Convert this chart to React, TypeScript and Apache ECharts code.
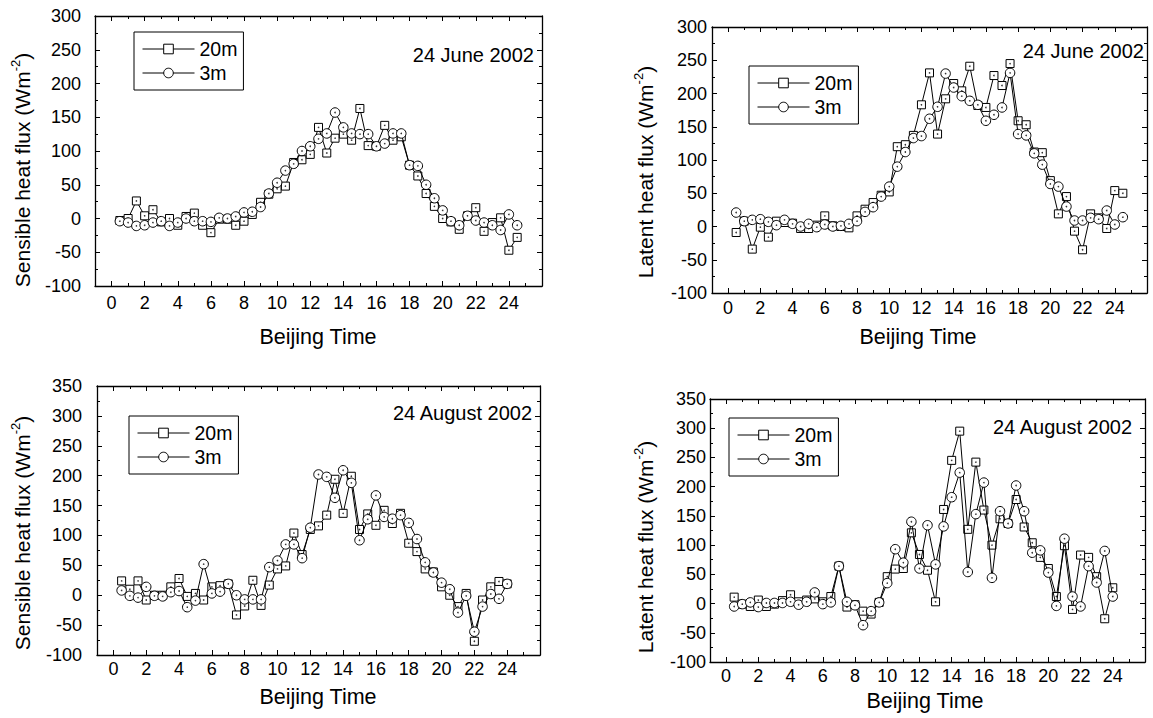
import React, { useEffect, useRef } from 'react';
import * as echarts from 'echarts';

const FONT = '"Liberation Sans", Arial, Helvetica, sans-serif';

// Beijing time of each half-hourly sample
const HOURS_JUNE = [0.5, 1, 1.5, 2, 2.5, 3, 3.5, 4, 4.5, 5, 5.5, 6, 6.5, 7, 7.5, 8, 8.5, 9, 9.5, 10, 10.5, 11, 11.5, 12, 12.5, 13, 13.5, 14, 14.5, 15, 15.5, 16, 16.5, 17, 17.5, 18, 18.5, 19, 19.5, 20, 20.5, 21, 21.5, 22, 22.5, 23, 23.5, 24, 24.5];
const HOURS_AUG = [0.5, 1, 1.5, 2, 2.5, 3, 3.5, 4, 4.5, 5, 5.5, 6, 6.5, 7, 7.5, 8, 8.5, 9, 9.5, 10, 10.5, 11, 11.5, 12, 12.5, 13, 13.5, 14, 14.5, 15, 15.5, 16, 16.5, 17, 17.5, 18, 18.5, 19, 19.5, 20, 20.5, 21, 21.5, 22, 22.5, 23, 23.5, 24];

// Sensible heat flux, 24 June 2002
const SH_JUNE_20M = [-3, 0, 26, 4, 13, -5, 0, -10, 3, 8, -10, -21, -1, -1, -10, -4, 6, 24, 36, 44, 48, 83, 87, 95, 135, 97, 119, 125, 116, 163, 108, 107, 138, 116, 121, 79, 63, 37, 18, 0, -5, -16, 4, 16, -19, -6, 1, -47, -28];
const SH_JUNE_3M = [-4, -6, -11, -10, -6, -4, -11, -6, 0, -4, -4, -5, 1, 0, 3, 9, 10, 17, 37, 53, 71, 81, 100, 107, 118, 126, 157, 135, 126, 125, 125, 107, 111, 126, 126, 79, 78, 50, 30, 12, -4, -10, 4, -3, -6, -10, -17, 6, -10];

// Latent heat flux, 24 June 2002
const LH_JUNE_20M = [-9, 8, -34, -1, -16, 8, 6, 5, -3, -3, 2, 16, 1, 0, -2, 16, 26, 36, 47, 52, 120, 123, 137, 183, 231, 139, 192, 215, 204, 241, 182, 179, 227, 212, 245, 159, 153, 112, 111, 69, 19, 45, -7, -35, 19, 13, -3, 54, 50];
const LH_JUNE_3M = [21, 8, 10, 11, 7, 2, 10, 4, 0, 4, -1, 3, 0, 1, 4, 8, 22, 29, 45, 60, 90, 112, 133, 136, 162, 180, 230, 209, 196, 189, 183, 159, 168, 179, 231, 139, 137, 110, 93, 64, 60, 30, 9, 9, 13, 11, 24, 3, 14];

// Sensible heat flux, 24 August 2002
const SH_AUG_20M = [24, 10, 24, -8, 0, 0, 14, 28, -2, 3, -8, 14, 16, 19, -33, -18, 25, -17, 17, 44, 49, 104, 68, 110, 116, 134, 194, 137, 199, 110, 136, 117, 142, 120, 137, 87, 73, 44, 39, 14, 0, -19, 3, -77, -8, 14, 23, 19];
const SH_AUG_3M = [8, -1, -4, 14, -1, -2, 5, 7, -20, -9, 52, 3, 6, 19, 0, -7, -7, -7, 47, 58, 85, 85, 62, 113, 202, 198, 163, 209, 188, 92, 127, 167, 131, 128, 134, 121, 94, 55, 38, 21, 10, -29, -1, -61, -19, 2, -6, 19];

// Latent heat flux, 24 August 2002
const LH_AUG_20M = [11, -1, -5, 6, -5, -1, 5, 15, 3, 6, 8, 3, 12, 64, -6, -2, -13, -18, 2, 46, 59, 60, 121, 84, 57, 3, 161, 245, 295, 127, 242, 160, 100, 145, 137, 178, 131, 104, 79, 60, 12, 99, -10, 83, 79, 46, -26, 27];
const LH_AUG_3M = [-5, -1, 2, -6, 1, 1, 1, 3, -2, 3, 19, -1, 2, 64, 3, -3, -37, -13, 2, 35, 93, 70, 140, 60, 134, 67, 132, 182, 224, 54, 153, 207, 44, 158, 137, 202, 158, 87, 91, 53, -4, 111, 12, -5, 64, 36, 90, 12];

const X_LABELS = [0, 2, 4, 6, 8, 10, 12, 14, 16, 18, 20, 22, 24];
const X_MINOR = [1, 3, 5, 7, 9, 11, 13, 15, 17, 19, 21, 23, 25];
const SERIES_NAMES = ['20m', '3m'];

const PANELS = [
  {
    hours: HOURS_JUNE, s20: SH_JUNE_20M, s3: SH_JUNE_3M, yMax: 300, date: '24 June 2002', yName: 'Sensible heat flux (Wm',
    grid: { left: 95, top: 16, width: 447, height: 270 }, xMargin: 8, yMargin: 14,
    legend: { left: 134, top: 32 }, dateAt: [534, 55], yNameAt: [22, 170], xNameAt: [318, 337],
  },
  {
    hours: HOURS_JUNE, s20: LH_JUNE_20M, s3: LH_JUNE_3M, yMax: 300, date: '24 June 2002', yName: 'Latent heat flux (Wm',
    grid: { left: 712, top: 27, width: 435, height: 266 }, xMargin: 6, yMargin: 5,
    legend: { left: 749, top: 66 }, dateAt: [1144, 51], yNameAt: [645, 172], xNameAt: [918, 337],
  },
  {
    hours: HOURS_AUG, s20: SH_AUG_20M, s3: SH_AUG_3M, yMax: 350, date: '24 August 2002', yName: 'Sensible heat flux (Wm',
    grid: { left: 97, top: 386, width: 443, height: 269 }, xMargin: 5, yMargin: 15,
    legend: { left: 129, top: 416 }, dateAt: [532, 413], yNameAt: [22, 533], xNameAt: [318, 697],
  },
  {
    hours: HOURS_AUG, s20: LH_AUG_20M, s3: LH_AUG_3M, yMax: 350, date: '24 August 2002', yName: 'Latent heat flux (Wm',
    grid: { left: 710, top: 399, width: 435, height: 263 }, xMargin: 5, yMargin: 4,
    legend: { left: 729, top: 418 }, dateAt: [1132, 427], yNameAt: [645, 547], xNameAt: [925, 701],
  },
];

function buildOption() {
  const grids: any[] = [];
  const xAxes: any[] = [];
  const yAxes: any[] = [];
  const series: any[] = [];
  const legends: any[] = [];
  const graphics: any[] = [];
  const axisLine = { show: true, onZero: false, lineStyle: { color: '#000', width: 1.3 } };
  const noLine = { show: false, onZero: false };
  const tickLine = { color: '#000', width: 1 };

  PANELS.forEach((p, i) => {
    grids.push({ ...p.grid, containLabel: false });
    const xBase = { type: 'value', gridIndex: i, min: -1, max: 26, interval: 1, splitLine: { show: false } };
    xAxes.push({
      ...xBase, position: 'bottom', axisLine,
      axisTick: { show: true, inside: true, length: 5, customValues: X_LABELS, lineStyle: tickLine },
      axisLabel: { show: true, customValues: X_LABELS, margin: p.xMargin, fontSize: 18, fontFamily: FONT, color: '#000' },
    });
    xAxes.push({
      ...xBase, position: 'bottom', axisLine: noLine,
      axisTick: { show: true, inside: true, length: 3, customValues: X_MINOR, lineStyle: tickLine },
      axisLabel: { show: false },
    });
    xAxes.push({
      ...xBase, position: 'top', axisLine,
      axisTick: { show: true, inside: true, length: 5, customValues: X_LABELS, lineStyle: tickLine },
      axisLabel: { show: false },
    });
    xAxes.push({
      ...xBase, position: 'top', axisLine: noLine,
      axisTick: { show: true, inside: true, length: 3, customValues: X_MINOR, lineStyle: tickLine },
      axisLabel: { show: false },
    });
    const yBase = {
      type: 'value', gridIndex: i, min: -100, max: p.yMax, interval: 50, axisLine,
      splitLine: { show: false }, minorSplitLine: { show: false },
      axisTick: { show: true, inside: true, length: 5, lineStyle: tickLine },
      minorTick: { show: true, splitNumber: 2, length: 3, lineStyle: tickLine },
    };
    yAxes.push({
      ...yBase, position: 'left',
      axisLabel: { show: true, margin: p.yMargin, fontSize: 18, fontFamily: FONT, color: '#000' },
    });
    yAxes.push({ ...yBase, position: 'right', axisLabel: { show: false } });

    const mk = (vals: number[]) => p.hours.map((h, k) => [h, vals[k]]);
    const common = { xAxisIndex: i * 4, yAxisIndex: i * 2, animation: false, emphasis: { disabled: true } };
    series.push({
      ...common, type: 'line', name: SERIES_NAMES[0], data: mk(p.s20), symbol: 'rect', symbolSize: 8,
      lineStyle: { color: '#000', width: 1 }, itemStyle: { color: '#fff', borderColor: '#000', borderWidth: 1 }, z: 2,
    });
    series.push({
      ...common, type: 'scatter', name: SERIES_NAMES[0] + ' centre', data: mk(p.s20), symbol: 'circle', symbolSize: 1.6,
      itemStyle: { color: '#000' }, silent: true, z: 3,
    });
    series.push({
      ...common, type: 'line', name: SERIES_NAMES[1], data: mk(p.s3), symbol: 'circle', symbolSize: 9.5,
      lineStyle: { color: '#000', width: 1 }, itemStyle: { color: '#fff', borderColor: '#000', borderWidth: 1 }, z: 4,
    });
    series.push({
      ...common, type: 'scatter', name: SERIES_NAMES[1] + ' centre', data: mk(p.s3), symbol: 'circle', symbolSize: 1.6,
      itemStyle: { color: '#000' }, silent: true, z: 5,
    });

    legends.push({
      orient: 'vertical', left: p.legend.left, top: p.legend.top, data: SERIES_NAMES, selectedMode: false,
      borderColor: '#000', borderWidth: 1, padding: [7, 6, 7, 8], itemGap: 4, itemWidth: 52, itemHeight: 12,
      lineStyle: { color: '#000', width: 1 },
      itemStyle: { color: '#fff', borderColor: '#000', borderWidth: 1 },
      textStyle: { fontSize: 19.5, fontFamily: FONT, color: '#000' },
    });

    graphics.push({
      type: 'text', x: p.dateAt[0], y: p.dateAt[1],
      style: { text: p.date, fontSize: 20, fontFamily: FONT, fill: '#000', align: 'right', verticalAlign: 'middle' },
    });
    graphics.push({
      type: 'text', x: p.xNameAt[0], y: p.xNameAt[1],
      style: { text: 'Beijing Time', fontSize: 21.5, fontFamily: FONT, fill: '#000', align: 'center', verticalAlign: 'middle' },
    });
    graphics.push({
      type: 'text', x: p.yNameAt[0], y: p.yNameAt[1], rotation: Math.PI / 2,
      style: {
        text: '{a|' + p.yName + '}{s|-2}{a|)}',
        rich: {
          a: { fontSize: 21, fontFamily: FONT, fill: '#000', lineHeight: 26 },
          s: { fontSize: 13, fontFamily: FONT, fill: '#000', verticalAlign: 'top' },
        },
        fill: '#000', align: 'center', verticalAlign: 'middle',
      },
    });
  });

  return {
    animation: false,
    backgroundColor: '#fff',
    grid: grids,
    xAxis: xAxes,
    yAxis: yAxes,
    legend: legends,
    series,
    graphic: graphics,
  };
}

export default function App() {
  const ref = useRef<HTMLDivElement>(null);
  useEffect(() => {
    document.body.style.margin = '0';
    if (!ref.current) return;
    const chart = echarts.init(ref.current, undefined, { renderer: 'svg' });
    chart.setOption(buildOption() as any);
    return () => chart.dispose();
  }, []);
  return <div ref={ref} style={{ width: 1153, height: 718 }} />;
}
